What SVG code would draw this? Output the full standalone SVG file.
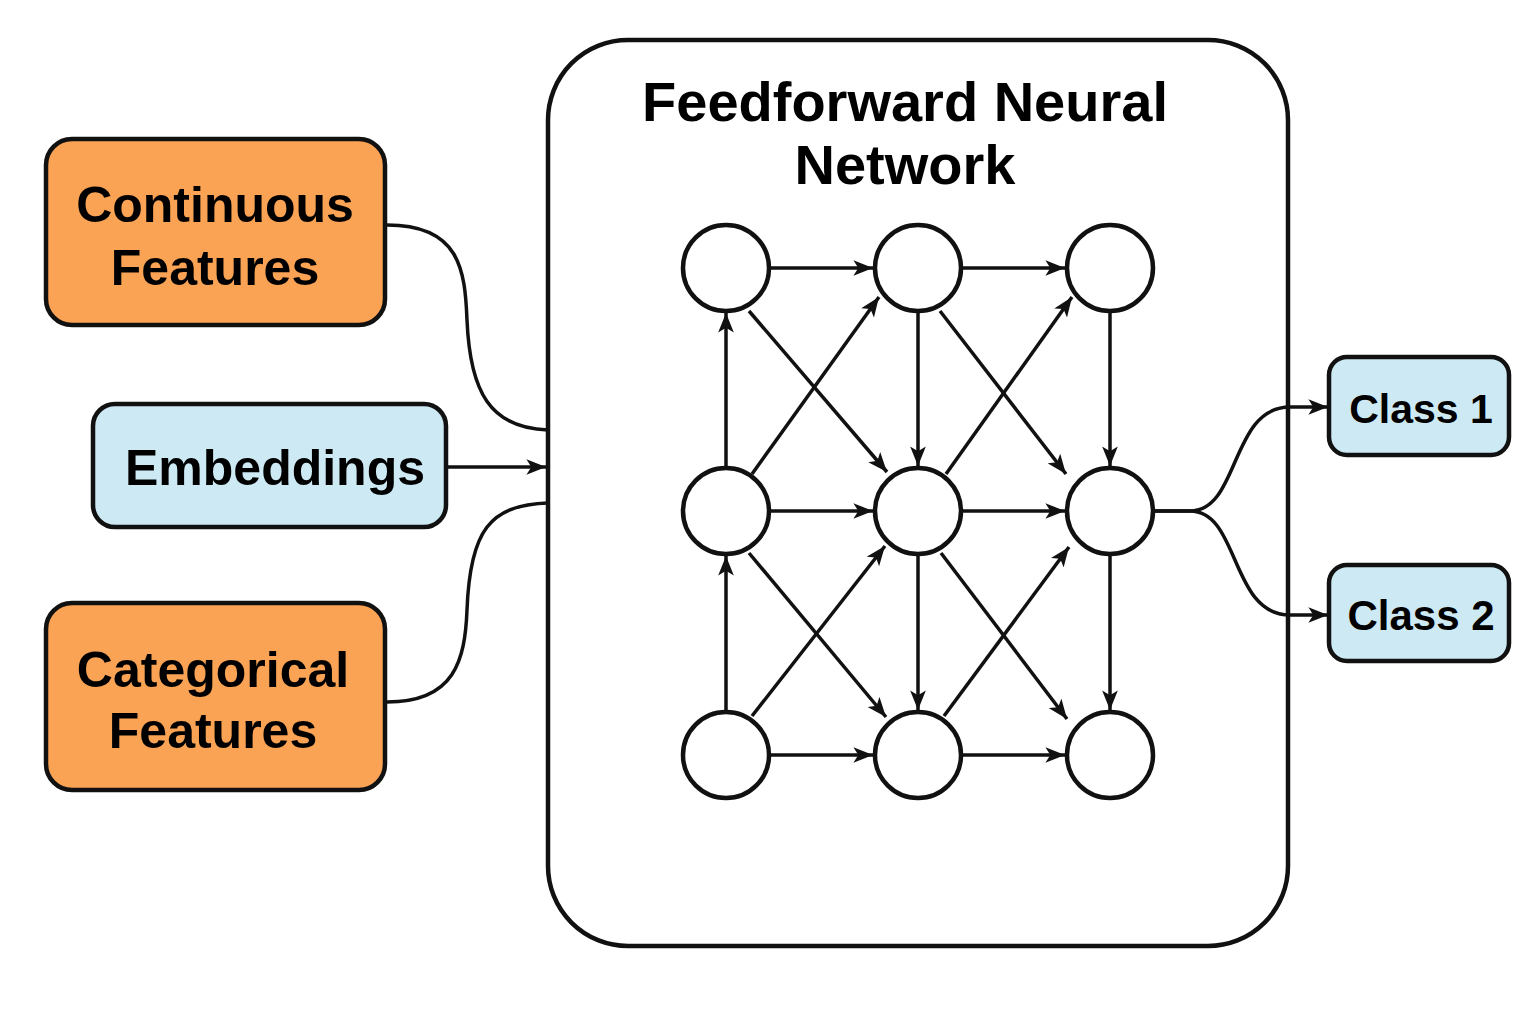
<svg xmlns="http://www.w3.org/2000/svg" width="1536" height="1024" viewBox="0 0 1536 1024">
<style>
  .box{stroke:#111;stroke-width:4.5}
  .orange{fill:#FBA354}
  .blue{fill:#CDE9F4}
  .lbl{font-family:"Liberation Sans",Arial,sans-serif;font-weight:bold;fill:#000;text-anchor:middle}
  .node{fill:#fff;stroke:#111;stroke-width:4.5}
  .edge{fill:none;stroke:#111;stroke-width:3.5}
  .arr{marker-end:url(#ah)}
</style>
<defs>
  <marker id="ah" viewBox="0 0 10 8" refX="10" refY="4" markerWidth="5.6" markerHeight="4.5" orient="auto" markerUnits="strokeWidth">
    <path d="M0,0 L10,4 L0,8 L2.5,4 z" fill="#111"/>
  </marker>
</defs>
<rect width="1536" height="1024" fill="#fff"/>

<g id="container">
  <rect x="548" y="40" width="740" height="906" rx="80" fill="#fff" stroke="#111" stroke-width="4.5"/>
  <text class="lbl" x="905" y="121" font-size="56">Feedforward Neural</text>
  <text class="lbl" x="905" y="184" font-size="56">Network</text>
</g>

<g id="continuous">
  <rect class="box orange" x="46" y="139" width="339" height="186" rx="26"/>
  <text class="lbl" x="215" y="222" font-size="50">Continuous</text>
  <text class="lbl" x="215" y="285" font-size="50">Features</text>
</g>
<g id="embeddings">
  <rect class="box blue" x="93" y="404" width="353" height="123" rx="22"/>
  <text class="lbl" x="275" y="485" font-size="50">Embeddings</text>
</g>
<g id="categorical">
  <rect class="box orange" x="46" y="603" width="339" height="187" rx="26"/>
  <text class="lbl" x="213" y="687" font-size="50">Categorical</text>
  <text class="lbl" x="213" y="748" font-size="50">Features</text>
</g>
<g id="class1">
  <rect class="box blue" x="1329" y="357" width="180" height="98" rx="18"/>
  <text class="lbl" x="1421" y="423" font-size="41">Class 1</text>
</g>
<g id="class2">
  <rect class="box blue" x="1329" y="565" width="180" height="96" rx="18"/>
  <text class="lbl" x="1421" y="630" font-size="42">Class 2</text>
</g>

<g id="neurons">
  <circle id="n11" class="node" cx="726" cy="268" r="43"/>
  <circle id="n12" class="node" cx="918" cy="268" r="43"/>
  <circle id="n13" class="node" cx="1110" cy="268" r="43"/>
  <circle id="n21" class="node" cx="726" cy="511" r="43"/>
  <circle id="n22" class="node" cx="918" cy="511" r="43"/>
  <circle id="n23" class="node" cx="1110" cy="511" r="43"/>
  <circle id="n31" class="node" cx="726" cy="755" r="43"/>
  <circle id="n32" class="node" cx="918" cy="755" r="43"/>
  <circle id="n33" class="node" cx="1110" cy="755" r="43"/>
</g>

<g id="connectors">
  <!-- inputs -->
  <path class="edge" d="M387,225 C460,225 465,270 467,320 C470,392 490,428 548,430"/>
  <path class="edge arr" d="M448,467 L546,467"/>
  <path class="edge" d="M387,702 C455,702 465,660 467,610 C470,530 490,505 548,503"/>
  <!-- horizontal -->
  <path class="edge arr" d="M770,268 L873,268"/>
  <path class="edge arr" d="M962,268 L1065,268"/>
  <path class="edge arr" d="M770,511 L873,511"/>
  <path class="edge arr" d="M962,511 L1065,511"/>
  <path class="edge arr" d="M770,755 L873,755"/>
  <path class="edge arr" d="M962,755 L1065,755"/>
  <!-- vertical -->
  <path class="edge arr" d="M726,467 L726,313"/>
  <path class="edge arr" d="M726,711 L726,556"/>
  <path class="edge arr" d="M918,312 L918,466"/>
  <path class="edge arr" d="M918,555 L918,710"/>
  <path class="edge arr" d="M1110,312 L1110,466"/>
  <path class="edge arr" d="M1110,555 L1110,710"/>
  <!-- diagonals -->
  <path class="edge arr" d="M749,311 L887,472"/>
  <path class="edge arr" d="M752,474 L879,297"/>
  <path class="edge arr" d="M749,553 L886,717"/>
  <path class="edge arr" d="M752,716 L885,546"/>
  <path class="edge arr" d="M940,311 L1066,474"/>
  <path class="edge arr" d="M946,474 L1072,297"/>
  <path class="edge arr" d="M941,553 L1067,719"/>
  <path class="edge arr" d="M944,716 L1069,547"/>
  <!-- outputs -->
  <path class="edge arr" d="M1153,511 L1190,511 C1240,511 1230,407 1290,407 L1328,407"/>
  <path class="edge arr" d="M1153,511 L1190,511 C1240,511 1230,615 1290,615 L1328,615"/>
</g>
</svg>
